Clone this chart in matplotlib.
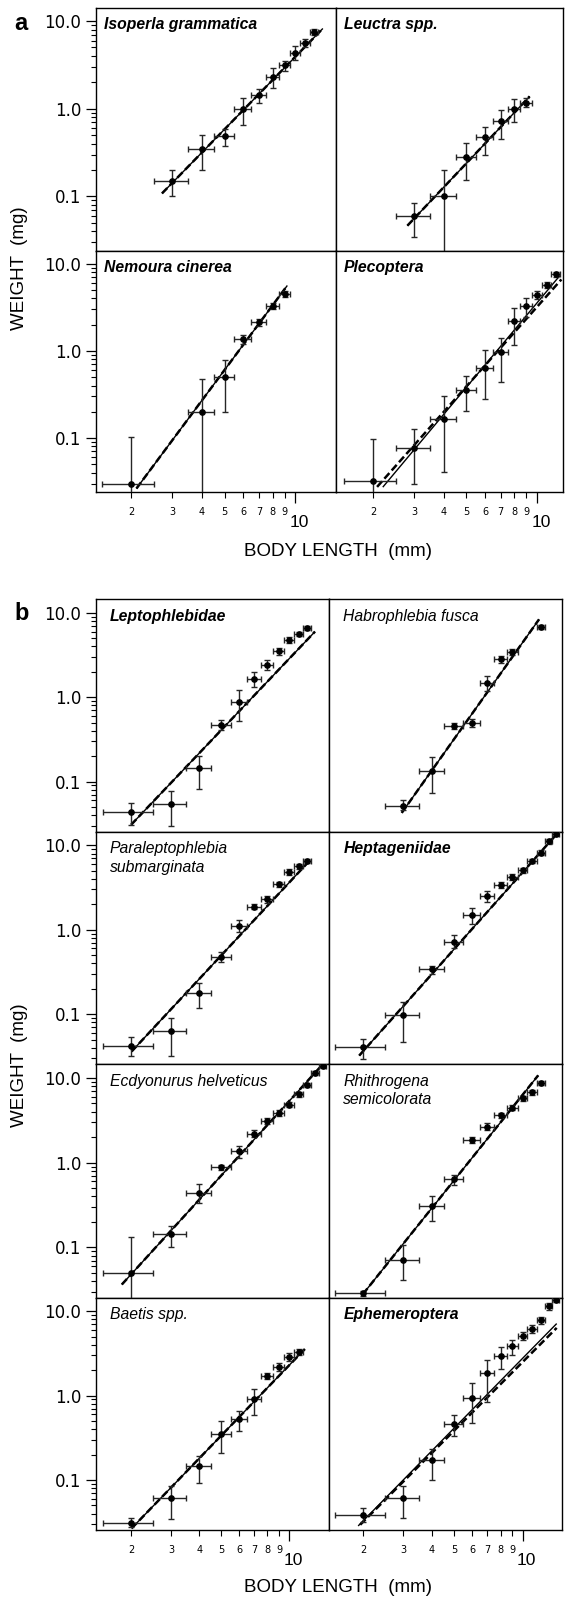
import numpy as np
import matplotlib
matplotlib.use("Agg")
import matplotlib.pyplot as plt
from matplotlib.transforms import ScaledTranslation

plt.rcParams['font.family'] = ['Liberation Sans', 'DejaVu Sans']

# ---- data (length classes in mm, dry weight in mg) ----
X_HALF = 0.5  # half width of the length class

iso_len = [3, 4, 5, 6, 7, 8, 9, 10, 11, 12]
iso_wt = [0.15, 0.35, 0.485, 1.0, 1.45, 2.31, 3.12, 4.27, 5.66, 7.57]
iso_lo = [0.10, 0.20, 0.38, 0.66, 1.17, 1.73, 2.7, 3.6, 5.1, 7.0]
iso_hi = [0.20, 0.50, 0.58, 1.31, 1.70, 2.93, 3.55, 5.2, 6.3, 8.2]

leu_len = [3, 4, 5, 6, 7, 8, 9]
leu_wt = [0.059, 0.10, 0.28, 0.47, 0.72, 1.0, 1.17]
leu_lo = [0.034, 0.005, 0.154, 0.30, 0.457, 0.71, 1.05]
leu_hi = [0.084, 0.20, 0.41, 0.62, 0.96, 1.30, 1.32]

nem_len = [2, 4, 5, 6, 7, 8, 9]
nem_wt = [0.03, 0.2, 0.5, 1.36, 2.14, 3.27, 4.45]
nem_lo = [0.005, 0.005, 0.20, 1.2, 1.95, 3.0, 4.1]
nem_hi = [0.103, 0.48, 0.79, 1.52, 2.35, 3.55, 4.8]

ple_len = [2, 3, 4, 5, 6, 7, 8, 9, 10, 11, 12]
ple_wt = [0.032, 0.077, 0.165, 0.36, 0.64, 0.96, 2.2, 3.24, 4.34, 5.64, 7.54]
ple_lo = [0.005, 0.0295, 0.041, 0.203, 0.28, 0.44, 1.16, 2.44, 3.9, 5.2, 7.0]
ple_hi = [0.097, 0.126, 0.30, 0.51, 1.01, 1.41, 3.13, 4.07, 4.85, 6.1, 8.1]

lep_len = [2, 3, 4, 5, 6, 7, 8, 9, 10, 11, 12]
lep_wt = [0.044, 0.054, 0.144, 0.467, 0.88, 1.66, 2.43, 3.49, 4.8, 5.65, 6.65]
lep_lo = [0.031, 0.0295, 0.082, 0.41, 0.52, 1.32, 2.12, 3.2, 4.4, 5.3, 6.3]
lep_hi = [0.0565, 0.078, 0.203, 0.535, 1.21, 2.0, 2.79, 3.8, 5.2, 6.0, 7.0]

hab_len = [3, 4, 5, 6, 7, 8, 9, 12]
hab_wt = [0.052, 0.135, 0.455, 0.50, 1.47, 2.81, 3.43, 6.76]
hab_lo = [0.046, 0.073, 0.42, 0.45, 1.18, 2.55, 3.15, 6.4]
hab_hi = [0.061, 0.197, 0.49, 0.55, 1.77, 3.1, 3.75, 7.1]

par_len = [2, 3, 4, 5, 6, 7, 8, 9, 10, 11, 12]
par_wt = [0.0416, 0.0625, 0.177, 0.48, 1.11, 1.87, 2.29, 3.44, 4.84, 5.65, 6.47]
par_lo = [0.0316, 0.032, 0.117, 0.41, 0.95, 1.75, 2.1, 3.2, 4.5, 5.3, 6.1]
par_hi = [0.053, 0.09, 0.233, 0.54, 1.3, 2.0, 2.5, 3.7, 5.2, 6.0, 6.9]

hep_len = [2, 3, 4, 5, 6, 7, 8, 9, 10, 11, 12, 13, 14]
hep_wt = [0.0405, 0.097, 0.34, 0.72, 1.49, 2.5, 3.37, 4.23, 5.07, 6.47, 8.2, 11.2, 13.7]
hep_lo = [0.0295, 0.047, 0.30, 0.60, 1.17, 2.14, 3.1, 3.9, 4.7, 6.1, 7.7, 10.5, 12.9]
hep_hi = [0.051, 0.141, 0.377, 0.865, 1.79, 2.9, 3.65, 4.6, 5.45, 6.9, 8.7, 12.0, 14.6]

ecd_len = [2, 3, 4, 5, 6, 7, 8, 9, 10, 11, 12, 13, 14]
ecd_wt = [0.05, 0.144, 0.44, 0.88, 1.36, 2.21, 3.09, 3.89, 4.81, 6.44, 8.3, 11.5, 14.0]
ecd_lo = [0.005, 0.10, 0.33, 0.82, 1.13, 2.0, 2.85, 3.6, 4.5, 6.0, 7.8, 10.8, 13.2]
ecd_hi = [0.132, 0.181, 0.56, 0.95, 1.58, 2.45, 3.35, 4.2, 5.15, 6.9, 8.8, 12.2, 14.8]

rhi_len = [2, 3, 4, 5, 6, 7, 8, 9, 10, 11, 12]
rhi_wt = [0.029, 0.071, 0.31, 0.64, 1.84, 2.65, 3.62, 4.47, 5.77, 6.75, 8.7]
rhi_lo = [0.027, 0.041, 0.207, 0.545, 1.7, 2.4, 3.35, 4.2, 5.4, 6.35, 8.2]
rhi_hi = [0.031, 0.106, 0.405, 0.72, 2.0, 2.95, 3.9, 4.75, 6.15, 7.15, 9.2]

bae_len = [2, 3, 4, 5, 6, 7, 8, 9, 10, 11]
bae_wt = [0.0307, 0.0618, 0.148, 0.353, 0.527, 0.91, 1.71, 2.19, 2.87, 3.3]
bae_lo = [0.0275, 0.034, 0.093, 0.211, 0.38, 0.59, 1.58, 1.95, 2.55, 3.05]
bae_hi = [0.035, 0.0857, 0.19, 0.494, 0.66, 1.2, 1.85, 2.45, 3.2, 3.55]

eph_len = [2, 3, 4, 5, 6, 7, 8, 9, 10, 11, 12, 13, 14]
eph_wt = [0.0385, 0.061, 0.173, 0.464, 0.94, 1.85, 2.98, 3.84, 5.14, 6.22, 7.82, 11.5, 13.8]
eph_lo = [0.032, 0.035, 0.10, 0.334, 0.47, 0.85, 2.08, 3.05, 4.6, 5.6, 7.1, 10.5, 12.8]
eph_hi = [0.046, 0.085, 0.234, 0.59, 1.41, 2.67, 3.77, 4.6, 5.75, 6.9, 8.6, 12.5, 14.8]

# regressions log10(W) = a + b*log10(L): (a, b, Lmin, Lmax, style)
iso_fit = [(-2.157, 2.75, 2.71, 13.1, 'both')]
leu_fit = [(-2.60, 2.83, 2.8, 9.3, 'both')]
nem_fit = [(-2.757, 3.63, 2.11, 9.25, 'both')]
ple_fit = [(-2.666, 3.217, 2.2, 12.5, 'solid'), (-2.525, 3.03, 2.08, 12.7, 'dashed')]
lep_fit = [(-2.36, 2.82, 2.0, 12.97, 'both')]
hab_fit = [(-3.16, 3.81, 2.95, 11.8, 'both')]
par_fit = [(-2.314, 2.876, 2.01, 12.3, 'both')]
hep_fit = [(-2.349, 3.03, 1.92, 14.3, 'both')]
ecd_fit = [(-2.20, 2.93, 1.82, 14.4, 'both')]
rhi_fit = [(-2.558, 3.36, 1.99, 11.7, 'both')]
bae_fit = [(-2.417, 2.78, 2.01, 11.7, 'both')]
eph_fit = [(-2.314, 2.757, 1.9, 14.1, 'solid'), (-2.311, 2.71, 1.94, 14.1, 'dashed')]

# ---- layout helpers (pixels of the 573x1598 figure) ----
W_PX, H_PX = 573, 1598
fig = plt.figure(figsize=(W_PX / 100, H_PX / 100), dpi=100)


def box(x0, y0, x1, y1):
    return [x0 / W_PX, 1 - y1 / H_PX, (x1 - x0) / W_PX, (y1 - y0) / H_PX]


def fx(x):
    return x / W_PX


def fy(y):
    return 1 - y / H_PX


def draw_fit(ax, fits):
    for a, b, x0, x1, style in fits:
        xs = np.array([x0, x1])
        ys = 10 ** (a + b * np.log10(xs))
        if style in ('solid', 'both'):
            ax.plot(xs, ys, color='black', lw=1.0, solid_capstyle='butt')
        if style in ('dashed', 'both'):
            ax.plot(xs, ys, color='black', lw=1.8, dashes=(3, 1.4))


def panel(rect, xlim, ylim, name, bold, L, Wt, lo, hi, fits, left, bottom):
    ax = fig.add_axes(rect)
    ax.set_xscale('log')
    ax.set_yscale('log')
    ax.set_xlim(*xlim)
    ax.set_ylim(*ylim)
    L = np.array(L, float)
    Wt = np.array(Wt, float)
    lo = np.array(lo, float)
    hi = np.array(hi, float)
    draw_fit(ax, fits)
    ax.errorbar(L, Wt, yerr=[Wt - lo, hi - Wt], xerr=X_HALF, fmt='o', ms=3.8,
                color='black', ecolor='#262626', elinewidth=1.0,
                capsize=2.2, capthick=1.0, zorder=3)
    for s in ax.spines.values():
        s.set_linewidth(1.0)
    ax.set_xticks([10], labels=['10'])
    ax.set_xticks([2, 3, 4, 5, 6, 7, 8, 9],
                  labels=['2', '3', '4', '5', '6', '7', '8', '9'], minor=True)
    ax.set_yticks([0.1, 1, 10], labels=['0.1', '1.0', '10.0'])
    ax.set_yticks([0.03, 0.04, 0.05, 0.06, 0.07, 0.08, 0.09,
                   0.2, 0.3, 0.4, 0.5, 0.6, 0.7, 0.8, 0.9,
                   2, 3, 4, 5, 6, 7, 8, 9], minor=True)
    ax.tick_params(axis='y', which='major', direction='out', length=7.5,
                   width=0.9, labelsize=12, pad=3)
    ax.tick_params(axis='y', which='minor', direction='out', length=3.8,
                   width=0.8, labelleft=False)
    ax.tick_params(axis='x', which='major', direction='out', length=8,
                   width=0.9, labelsize=12.5, pad=8.5)
    ax.tick_params(axis='x', which='minor', direction='out', length=4,
                   width=0.8, labelsize=7, pad=7)
    for t in ax.get_yticklabels() + ax.get_xticklabels(minor=True):
        t.set_fontfamily('DejaVu Sans')
    for t in ax.get_xticklabels():
        t.set_transform(t.get_transform() + ScaledTranslation(4 / 100, 0, fig.dpi_scale_trans))
    if not left:
        ax.tick_params(axis='y', which='both', left=False, labelleft=False)
    if not bottom:
        ax.tick_params(axis='x', which='both', bottom=False, labelbottom=False)
    weight = 'bold' if bold else 'normal'
    px0 = rect[0] * W_PX
    ptop = (1 - rect[1] - rect[3]) * H_PX
    off = 8 if rect[3] * H_PX > 240 else 14
    lines = name.split('\n')
    for i, ln in enumerate(lines):
        fig.text(fx(px0 + off), fy(ptop + 17 + i * 18.5), ln, style='italic',
                 weight=weight, fontsize=11.3, ha='left', va='center')
    return ax


# ---- part a ----
YA = (0.024, 14.1)
a_x = [96, 336, 563]
a_y = [8, 250.7, 492]
panel(box(a_x[0], a_y[0], a_x[1], a_y[1]), (1.42, 14.9), YA, 'Isoperla grammatica', True,
      iso_len, iso_wt, iso_lo, iso_hi, iso_fit, True, False)
panel(box(a_x[1], a_y[0], a_x[2], a_y[1]), (1.39, 12.9), YA, 'Leuctra spp.', True,
      leu_len, leu_wt, leu_lo, leu_hi, leu_fit, False, False)
panel(box(a_x[0], a_y[1], a_x[1], a_y[2]), (1.42, 14.9), YA, 'Nemoura cinerea', True,
      nem_len, nem_wt, nem_lo, nem_hi, nem_fit, True, True)
panel(box(a_x[1], a_y[1], a_x[2], a_y[2]), (1.39, 12.9), YA, 'Plecoptera', True,
      ple_len, ple_wt, ple_lo, ple_hi, ple_fit, False, True)

# ---- part b ----
YB = (0.0255, 14.5)
b_x = [96, 329.3, 561.5]
b_y = [599.3, 831.7, 1064.3, 1297.7, 1530]
XB_L = (1.40, 15.0)
XB_R = (1.42, 14.8)
b_panels = [
    ('Leptophlebidae', True, lep_len, lep_wt, lep_lo, lep_hi, lep_fit),
    ('Habrophlebia fusca', False, hab_len, hab_wt, hab_lo, hab_hi, hab_fit),
    ('Paraleptophlebia\nsubmarginata', False, par_len, par_wt, par_lo, par_hi, par_fit),
    ('Heptageniidae', True, hep_len, hep_wt, hep_lo, hep_hi, hep_fit),
    ('Ecdyonurus helveticus', False, ecd_len, ecd_wt, ecd_lo, ecd_hi, ecd_fit),
    ('Rhithrogena\nsemicolorata', False, rhi_len, rhi_wt, rhi_lo, rhi_hi, rhi_fit),
    ('Baetis spp.', False, bae_len, bae_wt, bae_lo, bae_hi, bae_fit),
    ('Ephemeroptera', True, eph_len, eph_wt, eph_lo, eph_hi, eph_fit),
]
for k, (name, bold, L, Wt, lo, hi, fits) in enumerate(b_panels):
    r, c = divmod(k, 2)
    panel(box(b_x[c], b_y[r], b_x[c + 1], b_y[r + 1]), XB_L if c == 0 else XB_R, YB,
          name, bold, L, Wt, lo, hi, fits, c == 0, r == 3)

# ---- labels ----
fig.text(fx(14), fy(23), 'a', fontsize=17, weight='bold', ha='left', va='center')
fig.text(fx(14), fy(614), 'b', fontsize=17, weight='bold', ha='left', va='center')
for yc in (268, 1065):
    fig.text(fx(20), fy(yc), 'WEIGHT  (mg)', fontsize=13.5, rotation=90,
             ha='center', va='center')
for yc in (551, 1587):
    fig.text(fx(338), fy(yc), 'BODY LENGTH  (mm)', fontsize=13.5,
             ha='center', va='center')

fig.savefig('out.png', dpi=100, facecolor='white')
